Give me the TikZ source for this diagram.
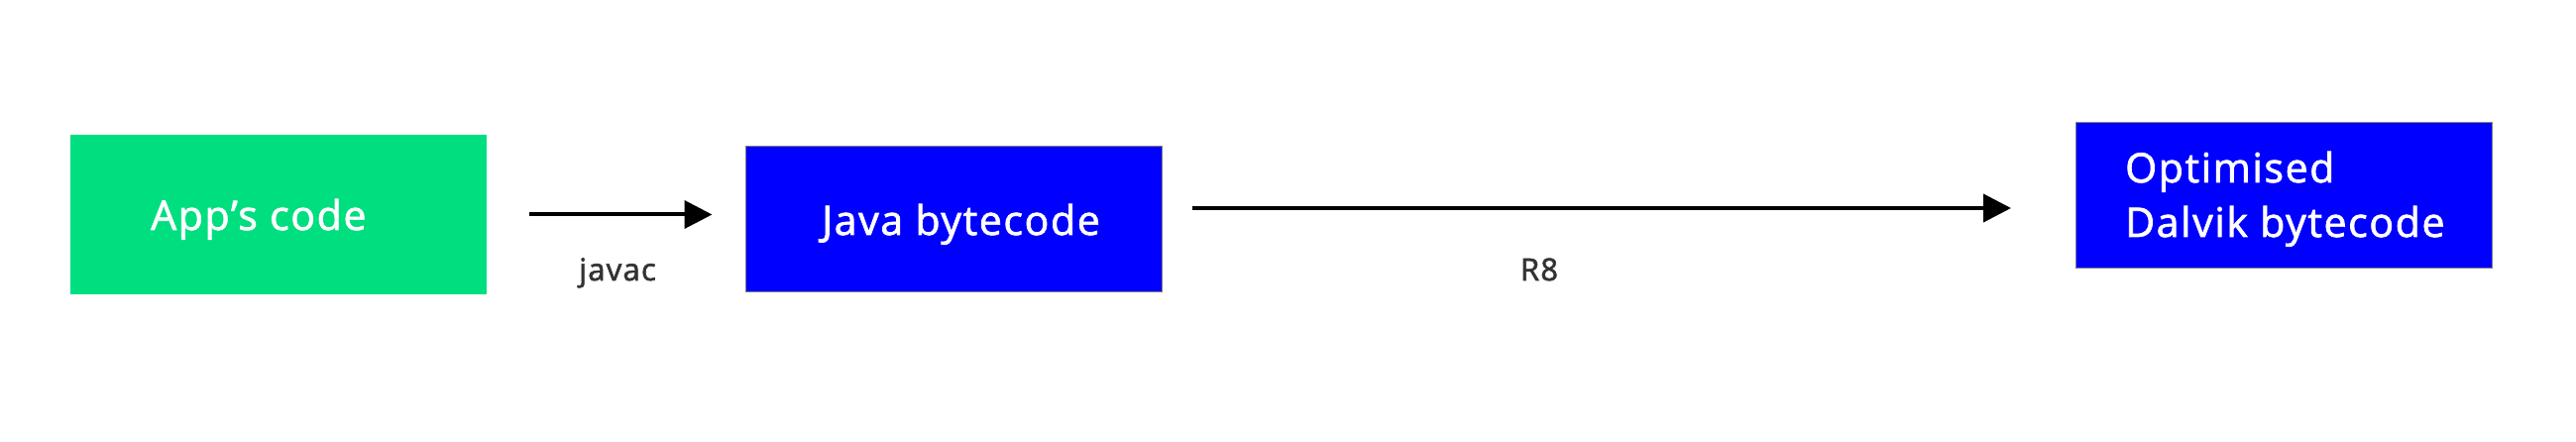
\documentclass[tikz,border=0pt]{standalone}
\usepackage{fontspec}
\setmainfont{Open Sans}
\newfontfamily\semib{Open Sans}[FakeBold=1.8,LetterSpace=4]
\usetikzlibrary{arrows.meta}
\definecolor{appgreen}{HTML}{00DF80}
\definecolor{codeblue}{HTML}{0000FF}
\definecolor{lblgray}{HTML}{333333}
\tikzset{
  box/.style={rectangle, inner sep=0pt, minimum width=420pt},
  greenbox/.style={box, fill=appgreen},
  bluebox/.style={box, fill=codeblue, draw=gray, line width=1pt},
  boxtext/.style={inner sep=0pt, text=white, font=\semib\fontsize{41}{55}\selectfont, align=left},
  lbl/.style={inner sep=0pt, text=lblgray, font=\semib\fontsize{31}{38}\selectfont},
  arr/.style={line width=4pt, -{Triangle[length=28pt,width=28pt]}}
}
\begin{document}
\begin{tikzpicture}[x=1pt,y=-1pt]
\useasboundingbox (0,0) rectangle (2599,446);
\node[greenbox, minimum height=161pt] (g) at (281,216.5) {};
\node[bluebox, minimum height=147pt] (b1) at (962,221.5) {};
\node[bluebox, minimum height=147pt] (b2) at (2304.5,197) {};
\node[boxtext, anchor=base west] (gt) at (152,232) {App’s code};
\node[boxtext, anchor=base west] (b1t) at (829,237) {Java bytecode};
\node[boxtext, anchor=base west] (b2t1) at (2144,184) {Optimised};
\node[boxtext, anchor=base west] (b2t2) at (2144,239) {Dalvik bytecode};
\draw[arr, shorten <=43pt, shorten >=33pt] (g.east) -- (g.east -| b1.west);
\draw[arr, shorten <=30pt, shorten >=65pt] ([yshift=11.5pt]b1.east) -- ([yshift=11.5pt]b1.east -| b2.west);
\node[lbl, anchor=base] (jl) at (623,283) {javac};
\node[lbl, anchor=base] (rl) at (1553,283) {R8};
\end{tikzpicture}
\end{document}
